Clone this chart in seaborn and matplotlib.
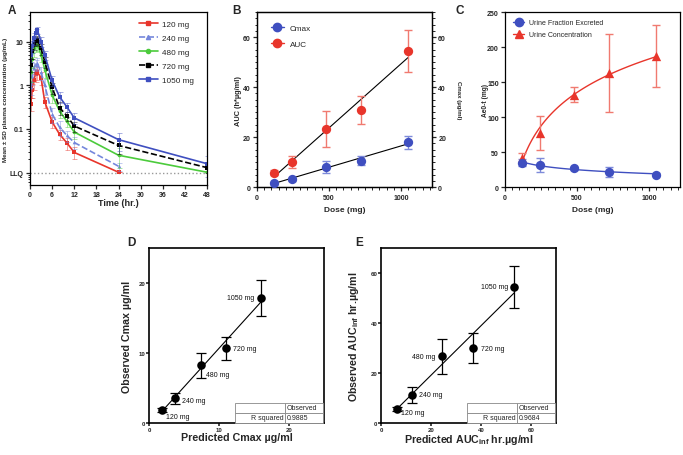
import numpy as np
import pandas as pd
import matplotlib.pyplot as plt
import seaborn as sns
from matplotlib.lines import Line2D
from matplotlib.ticker import MultipleLocator, LogLocator, NullFormatter, FixedLocator, FixedFormatter

sns.set_style("ticks")
plt.rcParams['font.family'] = ['Liberation Sans', 'DejaVu Sans']
plt.rcParams['mathtext.fontset'] = 'custom'
plt.rcParams['mathtext.rm'] = 'Liberation Sans:bold'
plt.rcParams['mathtext.default'] = 'rm'

# ---- panel A: plasma concentration vs time ----
times = [0.25, 0.5, 1, 1.5, 2, 3, 4, 6, 8, 10, 12, 24, 48]
conc_120 = [0.38, 0.8, 1.3, 1.8, 2.0, 1.5, 0.42, 0.145, 0.076, 0.048, 0.029, 0.0102]
sd_120 = [0.12, 0.3, 0.5, 0.6, 0.7, 0.5, 0.12, 0.04, 0.02, 0.015, 0.009, 0.0]
conc_240 = [0.9, 1.6, 2.5, 3.0, 3.2, 2.0, 1.0, 0.22, 0.11, 0.071, 0.049, 0.014]
sd_240 = [0.3, 0.6, 0.8, 0.9, 1.0, 0.7, 0.4, 0.08, 0.04, 0.02, 0.015, 0.003]
conc_480 = [2.0, 4.0, 7.0, 8.5, 8.5, 5.0, 2.3, 0.6, 0.26, 0.15, 0.085, 0.025, 0.0102]
sd_480 = [0.8, 1.5, 2.5, 2.8, 2.5, 1.5, 0.8, 0.2, 0.08, 0.04, 0.025, 0.012, 0.0]
conc_720 = [3.0, 6.0, 9.0, 10.5, 11.0, 7.0, 3.5, 0.9, 0.31, 0.2, 0.117, 0.042, 0.013]
sd_720 = [1.0, 2.0, 2.5, 2.5, 2.5, 2.0, 1.0, 0.25, 0.1, 0.05, 0.03, 0.015, 0.003]
conc_1050 = [5.0, 8.0, 12.0, 16.0, 18.5, 10.0, 5.0, 1.3, 0.55, 0.32, 0.18, 0.057, 0.016]
sd_1050 = [1.5, 2.5, 3.5, 4.0, 3.5, 2.5, 1.2, 0.35, 0.15, 0.08, 0.05, 0.025, 0.008]
dose_labels = ['120 mg', '240 mg', '480 mg', '720 mg', '1050 mg']

# ---- panel B: exposure vs dose ----
doses = [120, 240, 480, 720, 1050]
auc = [5.8, 10.1, 23.2, 30.7, 54.5]
auc_sd = [1.0, 2.5, 7.2, 5.6, 8.5]
cmax = [1.9, 3.3, 8.2, 10.7, 17.9]
cmax_sd = [0.4, 0.6, 2.5, 1.6, 2.6]

# ---- panel C: urine ----
urine_conc = [42, 77, 132, 163, 187]
urine_conc_sd = [7, 24, 11, 56, 44]
urine_frac = [35, 32, 27, 22, 18]
urine_frac_sd = [5, 10, 2, 7, 2]

# ---- panels D, E: predicted vs observed ----
pred_cmax = [1.8, 3.7, 7.4, 11.0, 16.0]
obs_cmax = [1.9, 3.6, 8.3, 10.7, 17.9]
obs_cmax_sd = [0.3, 0.8, 1.8, 1.7, 2.6]
pred_auc = [6.2, 12.3, 24.4, 36.7, 53.3]
obs_auc = [5.7, 11.4, 26.9, 30.1, 54.6]
obs_auc_sd = [0.8, 3.1, 7.0, 6.1, 8.5]
r2_cmax = '0.9885'
r2_auc = '0.9684'

RED = '#E8352B'
BLUE = '#3F4FC0'
LBLUE = '#7587DC'
GREEN = '#4CCB3C'

W, H = 683, 456
fig = plt.figure(figsize=(W / 100, H / 100), dpi=100)


def add_ax(l, t, r, b):
    return fig.add_axes([l / W, 1 - b / H, (r - l) / W, (b - t) / H])


def style(ax, size=5, lw=0.9):
    for s in ax.spines.values():
        s.set_visible(True)
        s.set_linewidth(lw)
        s.set_color('black')
    ax.tick_params(which='major', length=3, width=lw, labelsize=size, pad=1.5, direction='out')
    ax.tick_params(which='minor', length=1.8, width=0.7, direction='out')
    for lab in ax.get_xticklabels() + ax.get_yticklabels():
        lab.set_fontweight('bold')
    ax.set_facecolor('white')


# ================= A =================
axA = add_ax(30, 13, 207, 186)
series = [(conc_120, sd_120, RED, '-', 's'),
          (conc_240, sd_240, LBLUE, '--', '^'),
          (conc_480, sd_480, GREEN, '-', 'o'),
          (conc_720, sd_720, 'black', '--', 's'),
          (conc_1050, sd_1050, BLUE, '-', 's')]
handles = []
for (c, sd, col, ls, mk), lab in zip(series, dose_labels):
    t = times[:len(c)]
    axA.errorbar(t, c, yerr=sd, fmt='none', ecolor=col, alpha=0.45, capsize=1.8, lw=0.7, capthick=0.7)
    sns.lineplot(x=t, y=c, ax=axA, color=col, linestyle=ls, marker=mk, markersize=2.6,
                 markeredgewidth=0, lw=1.2)
    handles.append(Line2D([], [], color=col, ls=ls, marker=mk, markersize=3, lw=1.2, label=lab))
axA.axhline(0.01, color='#999999', ls=':', lw=1, zorder=0)
axA.set_yscale('log')
axA.set_ylim(0.0052, 48)
axA.set_xlim(0, 48)
axA.xaxis.set_major_locator(MultipleLocator(6))
axA.yaxis.set_major_locator(FixedLocator([0.01, 0.1, 1, 10]))
axA.yaxis.set_major_formatter(FixedFormatter(['LLQ', '0.1', '1', '10']))
axA.yaxis.set_minor_locator(LogLocator(base=10, subs=np.arange(2, 10)))
axA.yaxis.set_minor_formatter(NullFormatter())
style(axA)
axA.set_xlabel('Time (hr.)', fontsize=6.5, fontweight='bold')
axA.xaxis.set_label_coords(0.5, -0.078)
axA.xaxis.label.set_va('top')
axA.set_ylabel('Mean ± SD plasma concentration (µg/mL)', fontsize=4.6, fontweight='bold')
axA.yaxis.set_label_coords(-0.125, 0.5)
axA.legend(handles=handles, loc='upper left', bbox_to_anchor=(0.6, 0.97), frameon=False,
           fontsize=5.9, handlelength=2.2, labelspacing=0.75, handletextpad=0.6, borderaxespad=0)

# ================= B =================
axB = add_ax(257, 13, 432, 188.3)
axB2 = axB.twinx()
sns.regplot(x=doses, y=auc, ax=axB, scatter=False, ci=None, color='black', line_kws={'lw': 0.8})
sns.regplot(x=doses, y=cmax, ax=axB2, scatter=False, ci=None, color='black', line_kws={'lw': 0.8})
axB.errorbar(doses, auc, yerr=auc_sd, fmt='none', ecolor='#F07A70', capsize=3, lw=1, capthick=1)
axB2.errorbar(doses, cmax, yerr=cmax_sd, fmt='none', ecolor='#7E8BDA', capsize=3, lw=1, capthick=1)
sns.scatterplot(x=doses, y=auc, ax=axB, color=RED, s=45, linewidth=0, zorder=5)
sns.scatterplot(x=doses, y=cmax, ax=axB2, color=BLUE, s=45, linewidth=0, zorder=5)
for a in (axB, axB2):
    a.set_ylim(0, 70)
    a.yaxis.set_major_locator(MultipleLocator(20))
    a.yaxis.set_minor_locator(MultipleLocator(2.5))
axB.set_xlim(0, 1215)
axB.xaxis.set_major_locator(MultipleLocator(500))
axB.xaxis.set_minor_locator(MultipleLocator(50))
style(axB)
style(axB2)
axB.set_xlabel('Dose (mg)', fontsize=6, fontweight='bold')
axB.xaxis.set_label_coords(0.5, -0.105)
axB.xaxis.label.set_va('top')
axB.set_ylabel('AUC (h*µg/ml)', fontsize=5.3, fontweight='bold')
axB.yaxis.set_label_coords(-0.085, 0.5)
axB2.set_ylabel('Cmax (µg/ml)', fontsize=4.4, fontweight='bold', rotation=270)
axB2.yaxis.set_label_coords(1.15, 0.5)
axB2.yaxis.label.set_va('center')
hB = [Line2D([], [], color=BLUE, marker='o', markersize=6, lw=1, label='Cmax'),
      Line2D([], [], color=RED, marker='o', markersize=6, lw=1, label='AUC')]
axB2.legend(handles=hB, loc='upper left', bbox_to_anchor=(0.06, 0.95), frameon=False,
            fontsize=5.9, handlelength=1.6, labelspacing=1.0, handletextpad=0.7, borderaxespad=0)

# ================= C =================
axC = add_ax(505, 13, 680, 188.3)
sns.regplot(x=doses, y=urine_conc, ax=axC, scatter=False, ci=None, logx=True, color=RED, line_kws={'lw': 1})
sns.regplot(x=doses, y=urine_frac, ax=axC, scatter=False, ci=None, logx=True, color=BLUE, line_kws={'lw': 1})
axC.errorbar(doses, urine_conc, yerr=urine_conc_sd, fmt='none', ecolor='#F07A70', capsize=3, lw=1, capthick=1)
axC.errorbar(doses, urine_frac, yerr=urine_frac_sd, fmt='none', ecolor='#7E8BDA', capsize=3, lw=1, capthick=1)
sns.scatterplot(x=doses, y=urine_conc, ax=axC, color=RED, marker='^', s=45, linewidth=0, zorder=5)
sns.scatterplot(x=doses, y=urine_frac, ax=axC, color=BLUE, marker='o', s=45, linewidth=0, zorder=5)
axC.set_xlim(0, 1215)
axC.set_ylim(0, 250)
axC.xaxis.set_major_locator(MultipleLocator(500))
axC.xaxis.set_minor_locator(MultipleLocator(50))
axC.yaxis.set_major_locator(MultipleLocator(50))
style(axC)
axC.set_xlabel('Dose (mg)', fontsize=6, fontweight='bold')
axC.xaxis.set_label_coords(0.5, -0.105)
axC.xaxis.label.set_va('top')
axC.set_ylabel('Ae0-t (mg)', fontsize=4.8, fontweight='bold')
axC.yaxis.set_label_coords(-0.09, 0.5)
hC = [Line2D([], [], color=BLUE, marker='o', markersize=6, lw=1, label='Urine Fraction Excreted'),
      Line2D([], [], color=RED, marker='^', markersize=6, lw=1, label='Urine Concentration')]
axC.legend(handles=hC, loc='upper left', bbox_to_anchor=(0.03, 0.975), frameon=False,
           fontsize=5, handlelength=1.6, labelspacing=0.75, handletextpad=0.7, borderaxespad=0)


# ================= D / E =================
def obs_pred(ax, px, oy, osd, lim, step, r2, offsets, xlab, ylab):
    sns.regplot(x=px, y=oy, ax=ax, scatter=False, ci=None, color='black', line_kws={'lw': 0.8})
    ax.errorbar(px, oy, yerr=osd, fmt='none', ecolor='black', capsize=3.5, lw=0.9, capthick=0.9)
    sns.scatterplot(x=px, y=oy, ax=ax, color='black', s=38, linewidth=0, zorder=5)
    for x, y, lab, (dx, dy, ha) in zip(px, oy, dose_labels, offsets):
        ax.annotate(lab, (x, y), xytext=(dx, dy), textcoords='offset pixels', ha=ha, va='center',
                    fontsize=5, color='#111111')
    ax.set_xlim(0, lim)
    ax.set_ylim(0, lim)
    ax.xaxis.set_major_locator(MultipleLocator(step))
    ax.yaxis.set_major_locator(MultipleLocator(step))
    style(ax, size=4.4, lw=1.2)
    ax.tick_params(which='major', length=2, pad=0.6)
    ax.set_xlabel(xlab, fontsize=7.7, fontweight='bold')
    ax.xaxis.set_label_coords(0.5, -0.052)
    ax.xaxis.label.set_va('top')
    ax.set_ylabel(ylab, fontsize=7.7, fontweight='bold')
    tb = ax.table(cellText=[['', 'Observed'], ['R squared', r2]], colWidths=[50, 37],
                  bbox=[0.492, 0.004, 0.5, 0.112], zorder=6)
    tb.auto_set_font_size(False)
    for (r, c), cell in tb.get_celld().items():
        cell.set_edgecolor('#888888')
        cell.set_linewidth(0.6)
        cell.set_text_props(fontsize=5)
        cell.PAD = 0.04
        cell._loc = 'right' if c == 0 else 'left'
        cell.get_text().set_ha('right' if c == 0 else 'left')


axD = add_ax(149, 249.3, 324, 424.3)
obs_pred(axD, pred_cmax, obs_cmax, obs_cmax_sd, 25, 10, r2_cmax,
         [(4, -7, 'left'), (7, -2, 'left'), (5, -9, 'left'), (7, 0, 'left'), (-7, 0, 'right')],
         'Predicted Cmax µg/ml', 'Observed Cmax µg/ml')
axD.yaxis.set_label_coords(-0.095, 0.5)

axE = add_ax(381, 249.3, 556, 424.3)
obs_pred(axE, pred_auc, obs_auc, obs_auc_sd, 70, 20, r2_auc,
         [(4, -3, 'left'), (7, 0, 'left'), (-7, 0, 'right'), (8, 0, 'left'), (-6, 0, 'right')],
         'Predicted AUC$_{inf}$ hr.µg/ml', 'Observed AUC$_{inf}$ hr.µg/ml')
axE.yaxis.set_label_coords(-0.115, 0.5)

# panel letters
for x, y, s in [(8, 5, 'A'), (232, 5, 'B'), (456, 5, 'C'), (127, 237, 'D'), (355, 237, 'E')]:
    fig.text(x / W, 1 - y / H, s, fontsize=8.5, fontweight='bold', va='top', ha='left')

fig.savefig('out.png', dpi=100, facecolor='white')
